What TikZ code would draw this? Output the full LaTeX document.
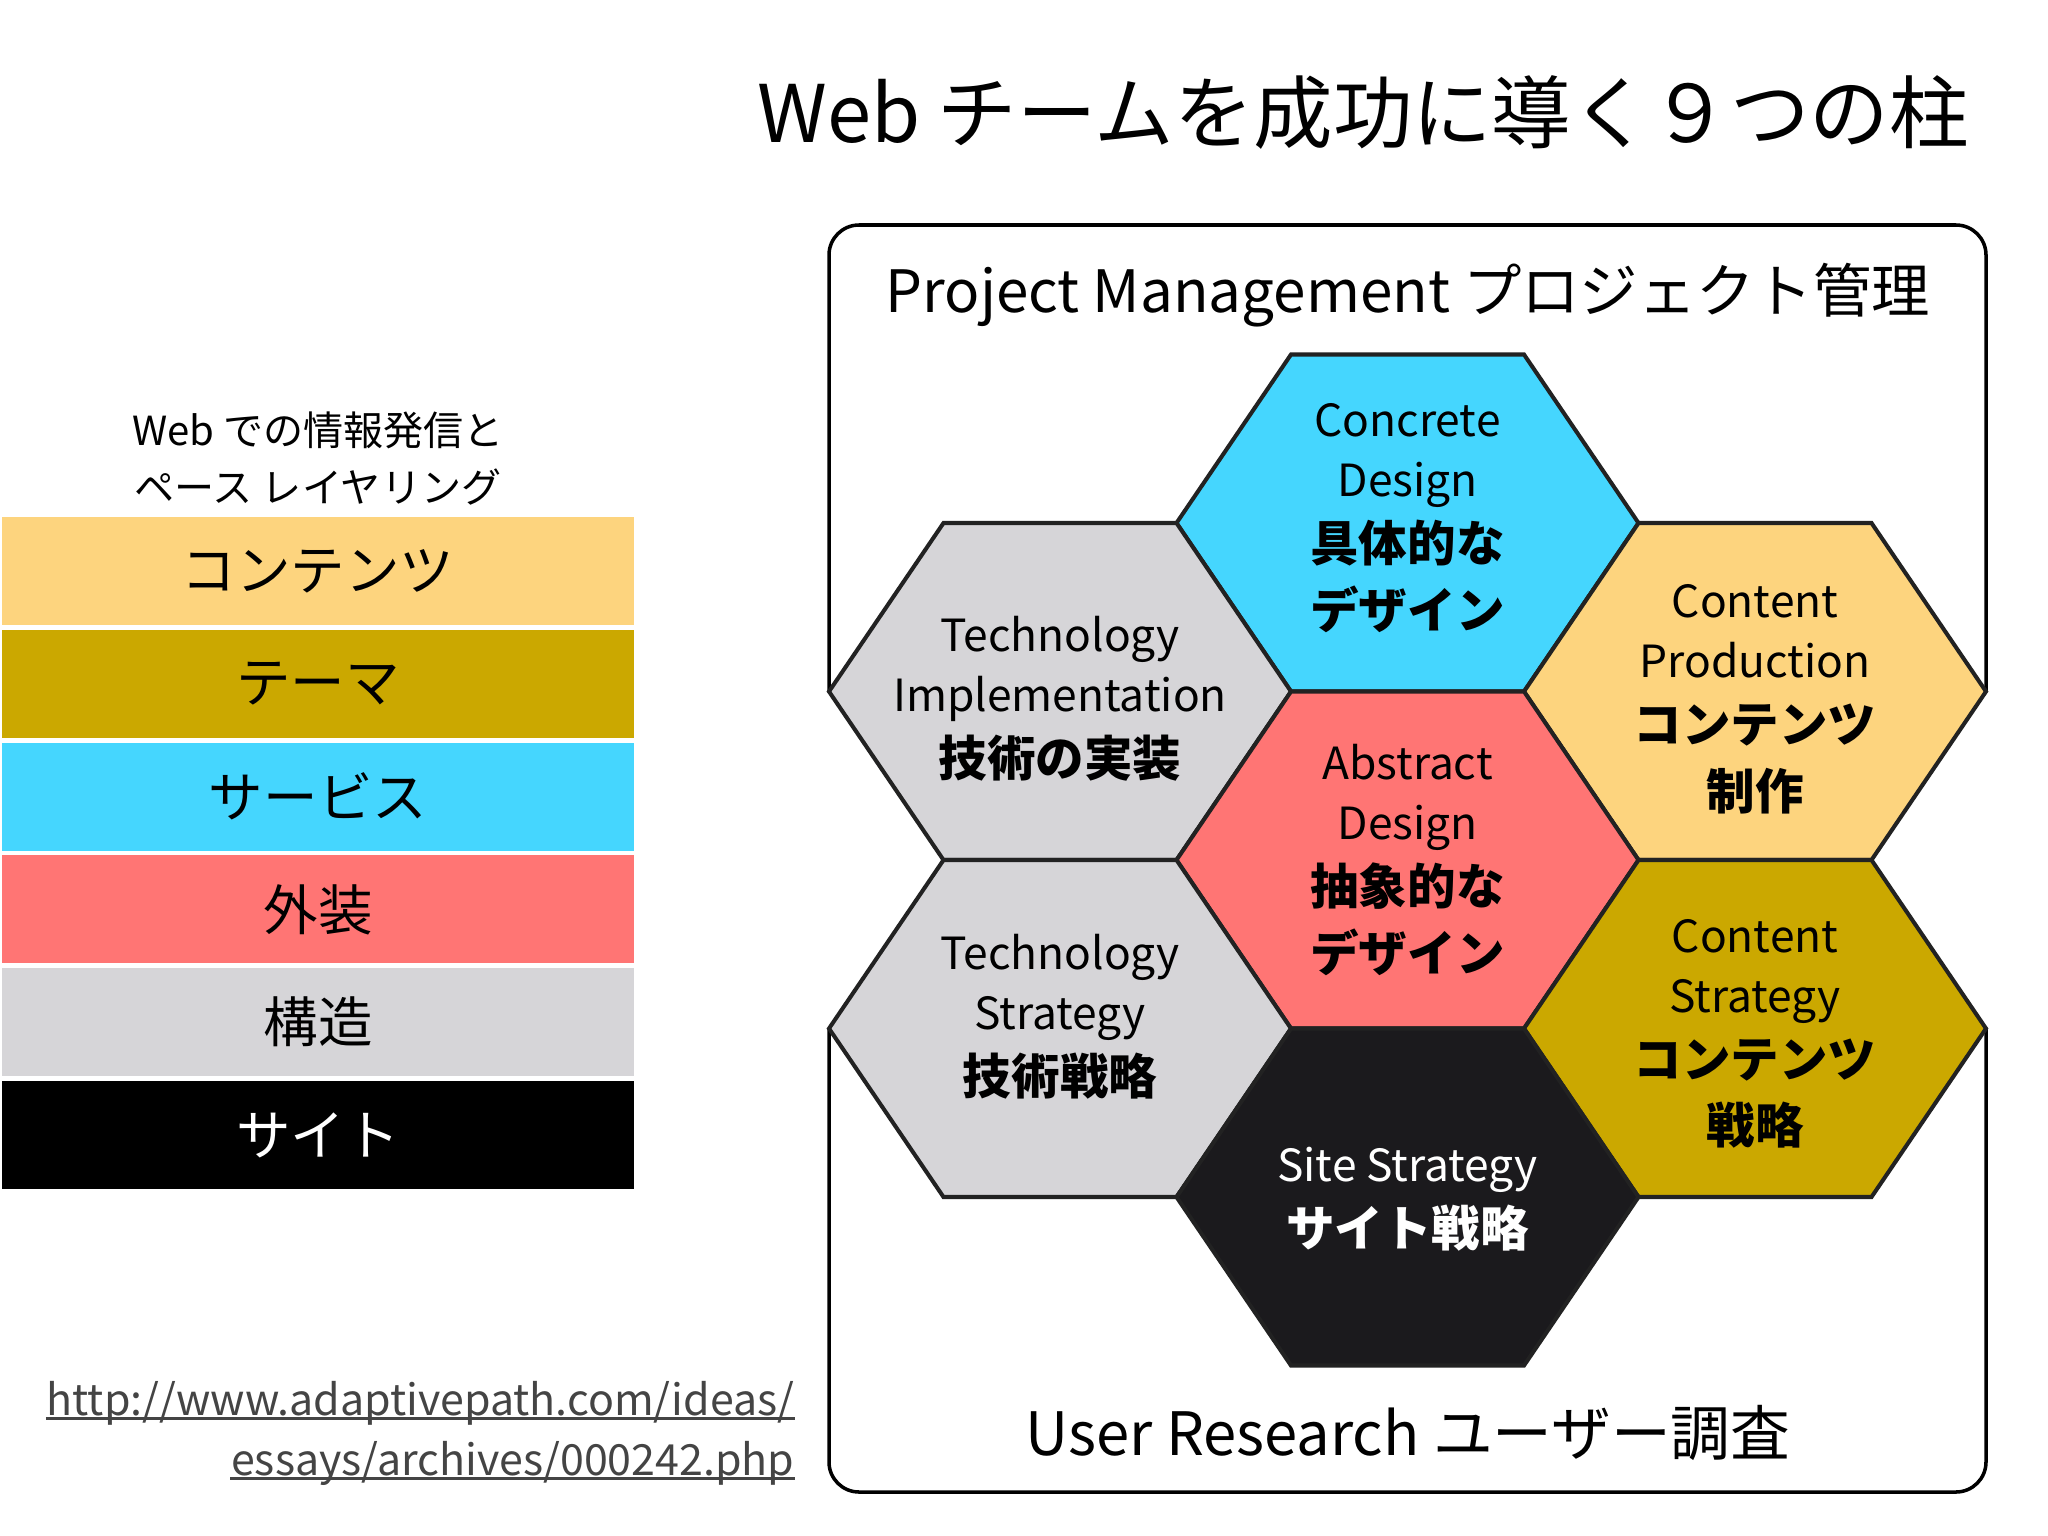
\documentclass[tikz,border=0pt]{standalone}
\usepackage{fontspec}
\setmainfont{Noto Sans CJK JP}
\definecolor{cYellow}{HTML}{FDD47E}
\definecolor{cOlive}{HTML}{CBA800}
\definecolor{cCyan}{HTML}{45D6FE}
\definecolor{cRed}{HTML}{FF7574}
\definecolor{cGrey}{HTML}{D6D5D8}
\definecolor{cHexBlack}{HTML}{1B1A1D}
\definecolor{cStroke}{HTML}{222222}
\definecolor{cUrl}{HTML}{444444}
\newcommand\hexcell[3]{%
  \filldraw[hexline, fill=#3, shift={(#1,#2)}]
    (-231,0) -- (-116.5,-168.5) -- (116.5,-168.5) -- (231,0)
    -- (116.5,168.5) -- (-116.5,168.5) -- cycle;}
\newcommand\jb[1]{{\bfseries\fontsize{13.8}{17}\selectfont #1}}
\begin{document}
\begin{tikzpicture}[x=0.01cm,y=-0.01cm,
  hexline/.style={draw=cStroke, line width=1.15pt, line join=miter},
  frameline/.style={draw=black, line width=1pt, rounded corners=0.3cm},
  hextext/.style={align=center, inner sep=0pt, font=\fontsize{12.6}{17}\selectfont},
  layer/.style={minimum width=6.32cm, minimum height=1.08cm, inner sep=0pt,
    font=\fontsize{15.5}{18}\selectfont},
  urltext/.style={text=cUrl, inner sep=0pt, font=\fontsize{12.2}{16}\selectfont},
  urlline/.style={draw=cUrl, line width=0.8pt}]
\useasboundingbox[fill=white] (0,0) rectangle (2048,1536);

% title
\node[inner sep=0pt, font=\fontsize{22.6}{26}\selectfont] (title) at (1363,112)
  {Web チームを成功に導く９つの柱};

% frame (two parts, interrupted by the hexagons)
\draw[frameline] (829,691.5) -- (829,225) -- (1986,225) -- (1986,691.5);
\draw[frameline] (829,1028.5) -- (829,1492) -- (1986,1492) -- (1986,1028.5);

\node[inner sep=0pt, font=\fontsize{16.6}{20}\selectfont] (pm) at (1408,295)
  {Project Management プロジェクト管理};
\node[inner sep=0pt, font=\fontsize{17}{20}\selectfont] (ur) at (1408,1433)
  {User Research ユーザー調査};

% hexagons
\hexcell{1407.5}{523}{cCyan}
\hexcell{1060}{691.5}{cGrey}
\hexcell{1755}{691.5}{cYellow}
\hexcell{1407.5}{860}{cRed}
\hexcell{1060}{1028.5}{cGrey}
\hexcell{1755}{1028.5}{cOlive}
\hexcell{1407.5}{1197}{cHexBlack}

\node[hextext] (cd) at (1407.5,518)
  {Concrete\\Design\\[1.5pt]\jb{具体的な}\\[2pt]\jb{デザイン}};
\node[hextext] (ti) at (1060,699)
  {Technology\\Implementation\\[1.5pt]\jb{技術の実装}};
\node[hextext] (cp) at (1755,699)
  {Content\\Production\\[1.5pt]\jb{コンテンツ}\\[2pt]\jb{制作}};
\node[hextext] (ad) at (1407.5,860)
  {Abstract\\Design\\[1.5pt]\jb{抽象的な}\\[2pt]\jb{デザイン}};
\node[hextext] (ts) at (1060,1017)
  {Technology\\Strategy\\[1.5pt]\jb{技術戦略}};
\node[hextext] (cs) at (1755,1034)
  {Content\\Strategy\\[1.5pt]\jb{コンテンツ}\\[2pt]\jb{戦略}};
\node[hextext, text=white] (ss) at (1407.5,1199)
  {Site Strategy\\[1.5pt]\jb{サイト戦略}};

% pace layering
\node[align=center, inner sep=0pt, font=\fontsize{11.4}{16.2}\selectfont] (hdr) at (318,459)
  {Web での情報発信と\\ペース レイヤリング};
\node[layer, fill=cYellow] (l1) at (318,571) {コンテンツ};
\node[layer, fill=cOlive] (l2) at (318,683.8) {テーマ};
\node[layer, fill=cCyan] (l3) at (318,796.6) {サービス};
\node[layer, fill=cRed] (l4) at (318,909.4) {外装};
\node[layer, fill=cGrey] (l5) at (318,1022.2) {構造};
\node[layer, fill=black, text=white] (l6) at (318,1135) {サイト};

% url
\node[urltext, anchor=base east] (u1) at (795,1415) {http://www.adaptivepath.com/ideas/};
\node[urltext, anchor=base east] (u2) at (795,1475) {essays/archives/000242.php};
\draw[urlline] ([yshift=-0.035cm]u1.base west) -- ([yshift=-0.035cm]u1.base east);
\draw[urlline] ([yshift=-0.035cm]u2.base west) -- ([yshift=-0.035cm]u2.base east);
\end{tikzpicture}
\end{document}
